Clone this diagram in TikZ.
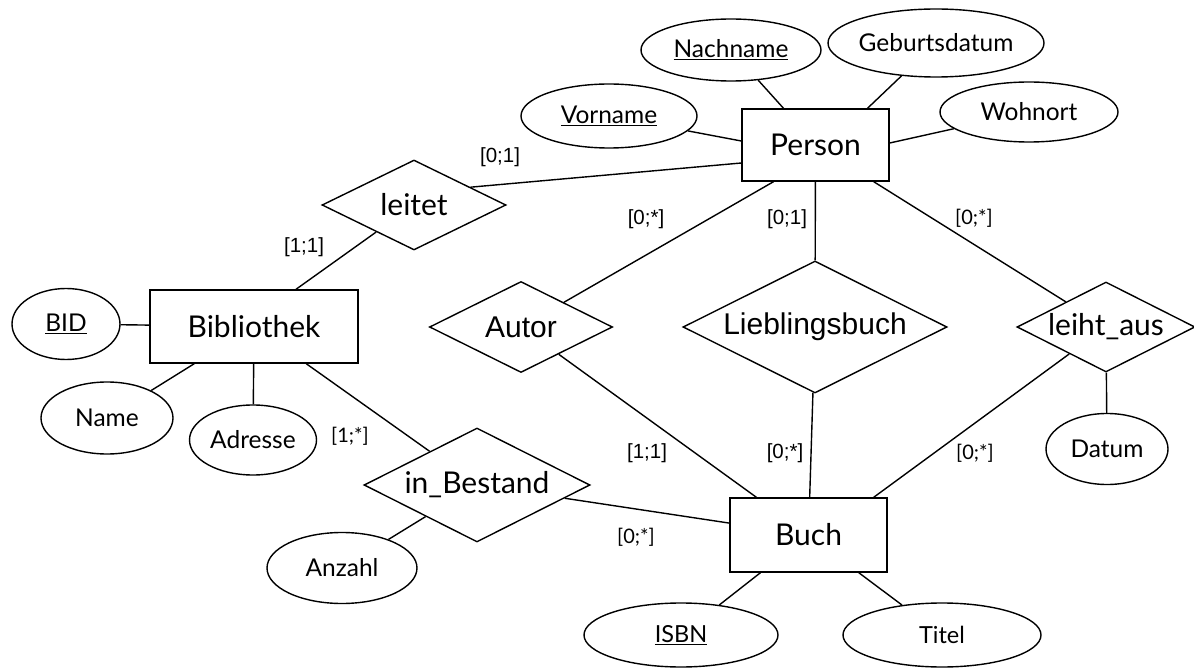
\documentclass[tikz,border=0pt]{standalone}
\usepackage{fontspec}
\setmainfont{Lato}
\newfontfamily\arial{Liberation Sans}
\usetikzlibrary{shapes.geometric,calc}
\newcommand{\zw}[1]{\makebox[0pt]{#1}}
\begin{document}
\begin{tikzpicture}[x=1pt,y=-1pt, line width=1.4pt,
  ent/.style={draw, rectangle, inner sep=0pt, font=\fontsize{30}{32}\selectfont},
  attr/.style={draw, ellipse, inner sep=0pt, font=\fontsize{24.5}{26}\selectfont},
  rel/.style={draw, diamond, aspect=2, inner sep=0pt, font=\fontsize{30}{32}\selectfont},
  arel/.style={rel, font=\arial\fontsize{30}{32}\selectfont},
  card/.style={inner sep=0pt, font=\fontsize{20}{22}\selectfont},
  acard/.style={inner sep=0pt, font=\arial\fontsize{20.5}{22}\selectfont},
]
\useasboundingbox (0,0) rectangle (1194,668);

% entities
\node[ent, minimum width=147pt, minimum height=72pt] (person) at (815.5,145) {Person};
\node[ent, minimum width=208pt, minimum height=73pt] (bib) at (254,326.5) {Bibliothek};
\node[ent, minimum width=157pt, minimum height=74pt] (buch) at (808.5,535) {Buch};

% attributes
\node[attr, minimum width=180pt, minimum height=62pt] (nach) at (731,50) {\zw{\underline{Nachname}}};
\node[attr, minimum width=216pt, minimum height=68pt] (geb) at (936,43) {\zw{Geburtsdatum}};
\node[attr, minimum width=176pt, minimum height=64pt] (vor) at (609,116) {\zw{\underline{Vorname}}};
\node[attr, minimum width=178pt, minimum height=60pt] (wohn) at (1029,112) {\zw{Wohnort}};
\node[attr, minimum width=108pt, minimum height=71pt] (bid) at (66,324) {\zw{\underline{BID}}};
\node[attr, minimum width=132pt, minimum height=72pt] (name) at (107,418) {\zw{Name}};
\node[attr, minimum width=127pt, minimum height=70pt] (adr) at (253,440) {\zw{Adresse}};
\node[attr, minimum width=150pt, minimum height=71pt] (anz) at (342,568) {\zw{Anzahl}};
\node[attr, minimum width=122pt, minimum height=71pt] (datum) at (1107,449) {\zw{Datum}};
\node[attr, minimum width=194pt, minimum height=64pt, font=\fontsize{23.5}{25}\selectfont] (isbn) at (681,635) {\zw{\underline{ISBN}}};
\node[attr, minimum width=198pt, minimum height=64pt, font=\fontsize{23.5}{25}\selectfont] (titel) at (942,635) {\zw{Titel}};

% relationships
\node[rel, minimum width=184pt, minimum height=90pt] (leitet) at (414,205) {\zw{leitet}};
\node[rel, minimum width=226pt, minimum height=114pt] (inb) at (477,485) {\zw{in\_Bestand}};
\node[arel, minimum width=183pt, minimum height=91pt] (autor) at (521,327) {\zw{Autor}};
\node[arel, minimum width=264pt, minimum height=132pt] (lieb) at (815,327) {\zw{Lieblingsbuch}};
\node[rel, minimum width=178pt, minimum height=90pt] (leiht) at (1106,327) {\zw{leiht\_aus}};

% connectors
\draw (vor) -- ([yshift=4pt]person.west);
\draw (nach) -- ([xshift=-32pt]person.north);
\draw (geb) -- ([xshift=52pt]person.north);
\draw (wohn) -- ([yshift=2pt]person.east);
\coordinate (lt) at ($(leitet.east)!0.39!(leitet.north)$);
\draw (lt) -- ([yshift=-18pt]person.west);
\draw (leitet) -- ([xshift=42pt]bib.north);
\draw (bid) -- (bib);
\draw (name) -- (bib);
\draw (adr) -- (bib);
\draw (bib) -- (inb);
\draw (inb) -- (anz);
\draw (inb) -- (buch);
\draw (autor) -- ([xshift=-42pt]person.south);
\draw (autor) -- (buch);
\draw (lieb) -- (person);
\draw (lieb) -- (buch);
\draw (leiht) -- ([xshift=-16pt]person.south east);
\draw (leiht) -- ([xshift=-14pt]buch.north east);
\draw (leiht) -- (datum);
\draw (buch) -- (isbn);
\draw (buch) -- (titel);

% cardinalities
\node[acard] (c1) at (500,157) {[0;1]};
\node[acard] (c2) at (304,247) {[1;1]};
\node[acard] (c3) at (646,219) {[0;*]};
\node[acard] (c4) at (787,219) {[0;1]};
\node[card] (c5) at (974,218) {[0;*]};
\node[card] (c6) at (350,436) {[1;*]};
\node[acard] (c7) at (647,453) {[1;1]};
\node[acard] (c8) at (785,453) {[0;*]};
\node[card] (c9) at (975,453) {[0;*]};
\node[card] (c10) at (636,537) {[0;*]};
\end{tikzpicture}
\end{document}
